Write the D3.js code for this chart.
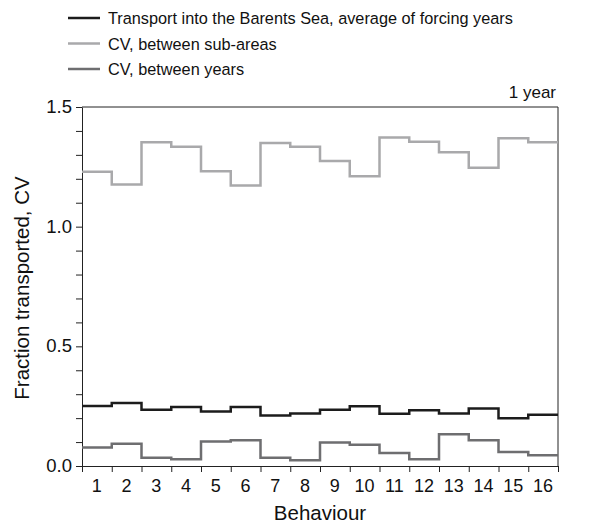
<!DOCTYPE html>
<html>
<head>
<meta charset="utf-8">
<script src="https://cdn.jsdelivr.net/npm/d3@7"></script>
<style>
  body { margin: 0; background: #fff; }
  text { font-family: "Liberation Sans", Arial, sans-serif; fill: #111; }
</style>
</head>
<body>
<svg id="chart" width="599" height="524"></svg>
<script>
// behaviours on the x axis
var behaviours = [1,2,3,4,5,6,7,8,9,10,11,12,13,14,15,16]

// transport into the Barents Sea, average of forcing years
var transport = [0.251,0.263,0.235,0.246,0.228,0.247,0.211,0.219,0.235,0.250,0.218,0.233,0.219,0.240,0.200,0.214]
// CV between sub-areas
var cvAreas = [1.229,1.176,1.353,1.334,1.232,1.172,1.350,1.334,1.274,1.211,1.373,1.355,1.311,1.246,1.369,1.353]
// CV between years
var cvYears = [0.077,0.093,0.034,0.028,0.102,0.108,0.034,0.024,0.098,0.089,0.054,0.028,0.133,0.108,0.059,0.045]

var seriesNames = ["Transport into the Barents Sea, average of forcing years","CV, between sub-areas","CV, between years"]
var yTicks = [0, 0.5, 1.0, 1.5]

var svg = d3.select("#chart")
var plotLeft = 82, plotRight = 558, plotTop = 107, plotBottom = 466;

var x = d3.scaleLinear().domain([0.5, 16.5]).range([plotLeft, plotRight])
var y = d3.scaleLinear().domain([0, 1.5]).range([plotBottom, plotTop])

var color = d3.scaleOrdinal()
  .domain(seriesNames)
  .range(["#1c1c1c","#a9a9ab","#6e6e70"])

// frame: top and right edges
svg.append("path")
  .attr("d", "M" + plotLeft + "," + plotTop + "H" + plotRight + "V" + plotBottom)
  .attr("fill", "none")
  .attr("stroke", "#222")
  .attr("stroke-width", 1)

// y axis with minor ticks every 0.1
var yAxis = svg.append("g")
  .attr("transform", "translate(" + plotLeft + ",0)")
  .call(d3.axisLeft(y).tickValues(d3.range(0, 1.51, 0.1)).tickSize(6).tickSizeOuter(0).tickFormat(""))
yAxis.selectAll("text").remove()
yAxis.selectAll("line, path").attr("stroke", "#222")

svg.selectAll(".ylab")
  .data(yTicks)
  .enter()
  .append("text")
  .attr("class", "ylab")
  .attr("x", 72)
  .attr("y", function(d) { return y(d) + 6; })
  .attr("text-anchor", "end")
  .attr("font-size", "18.5px")
  .text(function(d) { return d3.format(".1f")(d); })

// x axis: ticks at boundaries, labels at centres
var xAxis = svg.append("g")
  .attr("transform", "translate(0," + plotBottom + ")")
  .call(d3.axisBottom(x).tickValues(d3.range(0.5, 16.6, 1)).tickSize(6).tickSizeOuter(0).tickFormat(""))
xAxis.selectAll("line, path").attr("stroke", "#222")

svg.selectAll(".xlab")
  .data(behaviours)
  .enter()
  .append("text")
  .attr("class", "xlab")
  .attr("x", function(d) { return x(d); })
  .attr("y", 492)
  .attr("text-anchor", "middle")
  .attr("font-size", "18px")
  .text(function(d) { return d; })

svg.append("text")
  .attr("x", 320)
  .attr("y", 520)
  .attr("text-anchor", "middle")
  .attr("font-size", "20.5px")
  .text("Behaviour")

svg.append("text")
  .attr("transform", "translate(29,288) rotate(-90)")
  .attr("text-anchor", "middle")
  .attr("font-size", "20.5px")
  .text("Fraction transported, CV")

svg.append("text")
  .attr("x", 556)
  .attr("y", 98)
  .attr("text-anchor", "end")
  .attr("font-size", "17px")
  .text("1 year")

// step lines
var stepLine = d3.line()
  .x(function(d) { return x(d[0]); })
  .y(function(d) { return y(d[1]); })
  .curve(d3.curveStepAfter)

function stepData(values) {
  var pts = values.map(function(v, i) { return [behaviours[i] - 0.5, v]; })
  pts.push([behaviours[behaviours.length - 1] + 0.5, values[values.length - 1]])
  return pts
}

var allSeries = [cvAreas, cvYears, transport]
var allNames = [seriesNames[1], seriesNames[2], seriesNames[0]]

svg.selectAll(".series")
  .data(allSeries)
  .enter()
  .append("path")
  .attr("class", "series")
  .attr("d", function(d) { return stepLine(stepData(d)); })
  .attr("fill", "none")
  .attr("stroke", function(d, i) { return color(allNames[i]); })
  .attr("stroke-width", 2.5)

// legend
var legend = svg.selectAll(".legend")
  .data(seriesNames)
  .enter()
  .append("g")
  .attr("class", "legend")
  .attr("transform", function(d, i) { return "translate(68," + (18 + i * 25.5) + ")"; })

legend.append("line")
  .attr("x1", 0)
  .attr("x2", 32)
  .attr("stroke", function(d) { return color(d); })
  .attr("stroke-width", 2.5)

legend.append("text")
  .attr("x", 40)
  .attr("y", 6)
  .attr("font-size", "16.3px")
  .text(function(d) { return d; })
</script>
</body>
</html>
